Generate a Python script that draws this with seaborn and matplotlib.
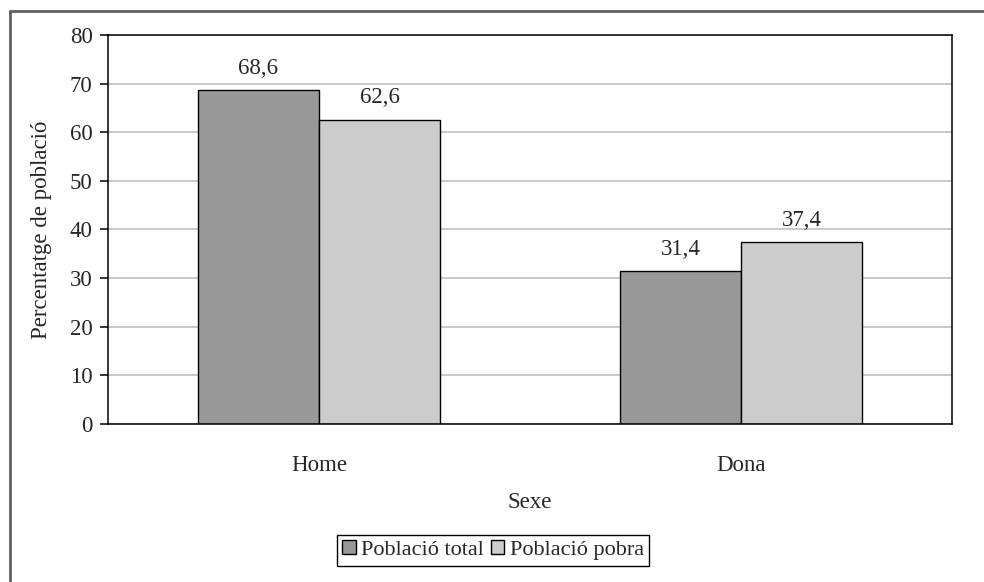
import matplotlib
matplotlib.use("Agg")
import matplotlib.pyplot as plt
from matplotlib.lines import Line2D
import seaborn as sns
import pandas as pd

# Data
sexe = ["Home", "Dona"]
poblacio_total = [68.6, 31.4]
poblacio_pobra = [62.6, 37.4]
series = ["Població total", "Població pobra"]

df = pd.DataFrame({
    "Sexe": sexe * 2,
    "valor": poblacio_total + poblacio_pobra,
    "serie": [series[0]] * 2 + [series[1]] * 2,
})

sns.set_theme(style="white")
plt.rcParams["font.family"] = ["Liberation Serif", "DejaVu Serif"]
fs = 16.5

fig = plt.figure(figsize=(9.84, 5.82), dpi=100)
ax = fig.add_axes([108 / 984, 1 - 424 / 582, (952 - 108) / 984, (424 - 35) / 582])

sns.barplot(data=df, x="Sexe", y="valor", hue="serie", order=sexe,
            hue_order=series, palette=["#999999", "#cccccc"],
            width=0.574, gap=0, edgecolor="black", linewidth=1,
            saturation=1, ax=ax, legend=True)

# value labels
for cont in ax.containers:
    ax.bar_label(cont, labels=[f"{v:.1f}".replace(".", ",") for v in cont.datavalues],
                 padding=8, fontsize=fs)

ax.set_ylim(0, 80)
ax.set_xlim(-0.5, 1.5)
ax.set_yticks(range(0, 81, 10))
ax.yaxis.grid(True, color="#c0c0c0", linewidth=1.2)
ax.set_axisbelow(True)
for s in ax.spines.values():
    s.set_color("black")
    s.set_linewidth(1.1)

ax.set_xticks([0, 1])
ax.set_xticks([-0.5, 0.5, 1.5], minor=True)
ax.tick_params(axis="x", which="major", length=0, pad=22, labelsize=fs)
ax.tick_params(axis="x", which="minor", length=6, width=1.1, direction="out", color="black")
ax.tick_params(axis="y", length=6, width=1.1, direction="out", color="black", labelsize=fs,
               left=True, pad=5)
ax.set_xlabel("Sexe", fontsize=fs, labelpad=12)
ax.set_ylabel("Percentatge de població", fontsize=fs, labelpad=13)

handles = [plt.Rectangle((0, 0), 1, 1, facecolor=c, edgecolor="black", linewidth=1)
           for c in ["#999999", "#cccccc"]]
ax.legend(handles, series, loc="center", bbox_to_anchor=(493 / 984, 1 - 550 / 582),
          bbox_transform=fig.transFigure, ncol=2, fontsize=fs - 0.5, frameon=True,
          fancybox=False, edgecolor="black", framealpha=1, handlelength=0.6,
          handleheight=0.6, handletextpad=0.25, columnspacing=0.3, borderpad=0.25,
          borderaxespad=0)

# outer chart frame (top and left edges)
fig.add_artist(Line2D([10 / 984, 1], [1 - 11 / 582, 1 - 11 / 582], color="#606060",
                      linewidth=2, transform=fig.transFigure))
fig.add_artist(Line2D([10 / 984, 10 / 984], [1 - 11 / 582, 0], color="#606060",
                      linewidth=2, transform=fig.transFigure))

fig.savefig("out.png", dpi=100)
